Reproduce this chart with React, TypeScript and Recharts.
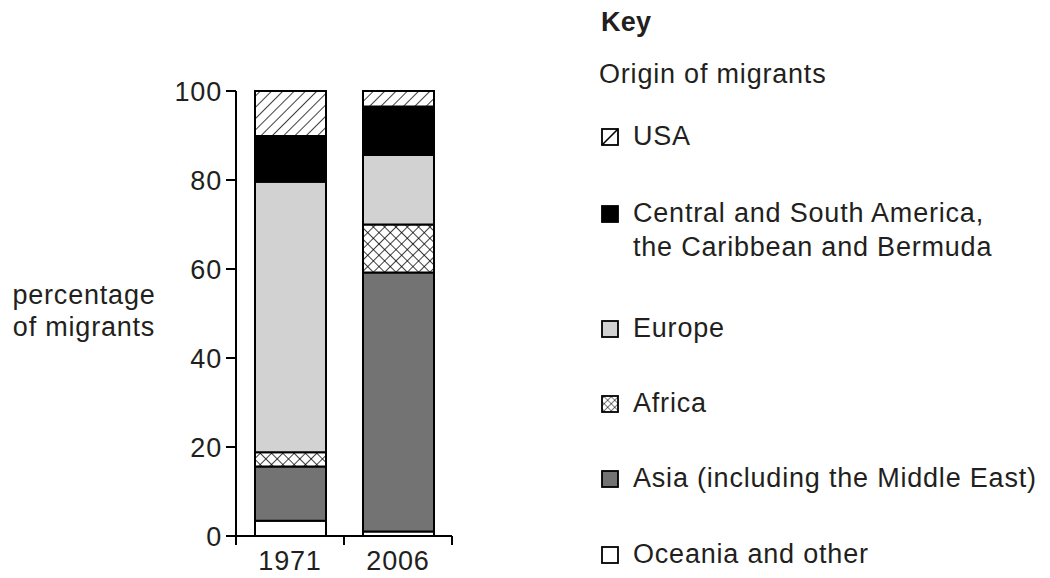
import React from 'react';
import { BarChart, Bar, XAxis, YAxis, Legend } from 'recharts';

const years = ['1971', '2006'];
const oceania = [3.4, 1.0];
const asia = [12.2, 58.2];
const africa = [3.2, 10.8];
const europe = [60.8, 15.6];
const central = [10.3, 10.9];
const usa = [10.1, 3.5];
const yTicks = [0, 20, 40, 60, 80, 100];
// bottom axis runs 0..1: band edges at 0, 0.5, 1 and year labels at band centres
const xTicks = [0, 0.25, 0.5, 0.75, 1];

const data = years.map((year, i) => ({
  year,
  oceania: oceania[i],
  asia: asia[i],
  africa: africa[i],
  europe: europe[i],
  central: central[i],
  usa: usa[i],
}));

const FONT = '"Liberation Sans", Arial, Helvetica, sans-serif';
const INK = '#231f20';
const TEXT = { fontFamily: FONT, fontSize: 27, letterSpacing: 0.8, fill: INK };

// legend rows, top to bottom
const keyItems = [
  { lines: ['USA'], fill: 'white', icon: 'slash', baseline: 145 },
  { lines: ['Central and South America,', 'the Caribbean and Bermuda'], fill: '#000', icon: 'solid', baseline: 222 },
  { lines: ['Europe'], fill: '#d2d2d2', icon: 'solid', baseline: 337 },
  { lines: ['Africa'], fill: 'url(#xhatchSmall)', icon: 'solid', baseline: 412 },
  { lines: ['Asia (including the Middle East)'], fill: '#737373', icon: 'solid', baseline: 487 },
  { lines: ['Oceania and other'], fill: 'white', icon: 'solid', baseline: 563 },
];

const KeyBox = () => (
  <svg width={460} height={578} style={{ display: 'block' }}>
    <defs>
      <pattern id="xhatchSmall" patternUnits="userSpaceOnUse" width={5} height={5} patternTransform="rotate(45)">
        <rect width={5} height={5} fill="white" />
        <line x1={0} y1={0} x2={0} y2={5} stroke="#000" strokeWidth={1} />
        <line x1={0} y1={0} x2={5} y2={0} stroke="#000" strokeWidth={1} />
      </pattern>
    </defs>
    <text x={11} y={31} {...TEXT} fontWeight="bold" letterSpacing={0.3}>Key</text>
    <text x={9} y={83} {...TEXT}>Origin of migrants</text>
    {keyItems.map((item) => (
      <g key={item.lines[0]}>
        <rect x={12} y={item.baseline - 16} width={16} height={16} fill={item.fill} stroke="#000" strokeWidth={1.8} />
        {item.icon === 'slash' && (
          <line x1={12} y1={item.baseline} x2={28} y2={item.baseline - 16} stroke="#000" strokeWidth={1.6} />
        )}
        {item.lines.map((line, j) => (
          <text key={line} x={43} y={item.baseline + j * 34} {...TEXT}>{line}</text>
        ))}
      </g>
    ))}
  </svg>
);

const YearTick = (props: any) => {
  const { x, y, payload } = props;
  const v = payload.value;
  if (Number.isInteger(v * 2)) {
    return <line x1={x} y1={y} x2={x} y2={y + 9} stroke="#000" strokeWidth={2} />;
  }
  return (
    <text x={x} y={y + 34} textAnchor="middle" {...TEXT}>
      {years[Math.floor(v * 2)]}
    </text>
  );
};

const YTitle = () => (
  <g>
    <text x={84} y={304} textAnchor="middle" {...TEXT}>percentage</text>
    <text x={84} y={336} textAnchor="middle" {...TEXT}>of migrants</text>
  </g>
);

export default function App() {
  return (
    <div style={{ position: 'absolute', left: 0, top: 0, background: '#fff' }}>
      <BarChart
        width={1050}
        height={578}
        data={data}
        margin={{ top: 91, right: 598, bottom: 2, left: 156 }}
        barSize={71}
      >
        <defs>
          <pattern id="hatch" patternUnits="userSpaceOnUse" width={8} height={8} patternTransform="rotate(45)">
            <rect width={8} height={8} fill="white" />
            <line x1={0} y1={0} x2={0} y2={8} stroke="#000" strokeWidth={1.5} />
          </pattern>
          <pattern id="xhatch" patternUnits="userSpaceOnUse" width={8} height={8} patternTransform="rotate(45)">
            <rect width={8} height={8} fill="white" />
            <line x1={0} y1={0} x2={0} y2={8} stroke="#000" strokeWidth={1.5} />
            <line x1={0} y1={0} x2={8} y2={0} stroke="#000" strokeWidth={1.5} />
          </pattern>
        </defs>
        <XAxis
          xAxisId="num"
          type="number"
          domain={[0, 1]}
          ticks={xTicks}
          interval={0}
          height={40}
          tickSize={0}
          tickMargin={0}
          tickLine={false}
          axisLine={{ stroke: '#000', strokeWidth: 2 }}
          tick={<YearTick />}
          allowDataOverflow
        />
        <XAxis xAxisId="cat" dataKey="year" hide height={0} />
        <YAxis
          domain={[0, 100]}
          ticks={yTicks}
          interval={0}
          width={80}
          tickSize={10}
          tickMargin={4}
          axisLine={{ stroke: '#000', strokeWidth: 2 }}
          tickLine={{ stroke: '#000', strokeWidth: 2 }}
          tick={{ ...TEXT }}
          label={{ content: <YTitle /> }}
        />
        <Legend
          layout="vertical"
          align="center"
          verticalAlign="middle"
          wrapperStyle={{ left: 590, top: 0, width: 460, height: 578 }}
          content={<KeyBox />}
        />
        <Bar xAxisId="cat" dataKey="oceania" name="Oceania and other" stackId="a" fill="#ffffff" stroke="#000" strokeWidth={2} isAnimationActive={false} />
        <Bar xAxisId="cat" dataKey="asia" name="Asia (including the Middle East)" stackId="a" fill="#737373" stroke="#000" strokeWidth={2} isAnimationActive={false} />
        <Bar xAxisId="cat" dataKey="africa" name="Africa" stackId="a" fill="url(#xhatch)" stroke="#000" strokeWidth={2} isAnimationActive={false} />
        <Bar xAxisId="cat" dataKey="europe" name="Europe" stackId="a" fill="#d2d2d2" stroke="#000" strokeWidth={2} isAnimationActive={false} />
        <Bar xAxisId="cat" dataKey="central" name="Central and South America, the Caribbean and Bermuda" stackId="a" fill="#000000" stroke="#000" strokeWidth={2} isAnimationActive={false} />
        <Bar xAxisId="cat" dataKey="usa" name="USA" stackId="a" fill="url(#hatch)" stroke="#000" strokeWidth={2} isAnimationActive={false} />
      </BarChart>
    </div>
  );
}
